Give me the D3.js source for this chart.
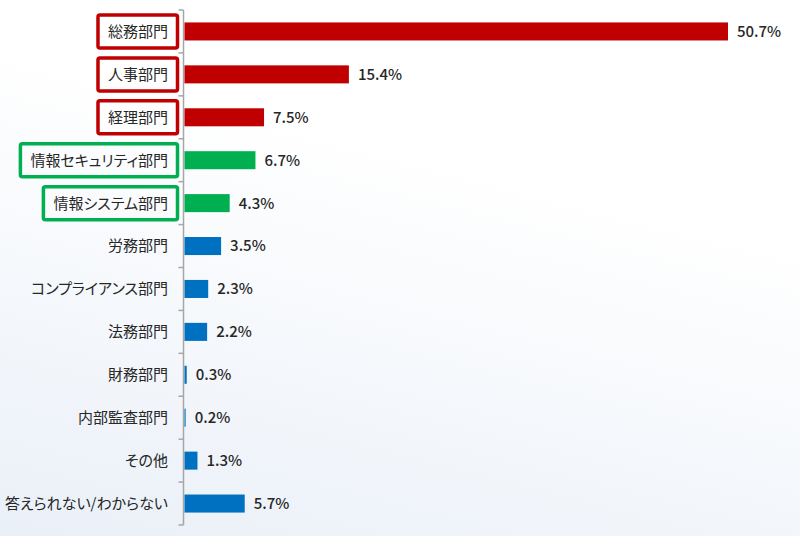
<!DOCTYPE html>
<html><head><meta charset="utf-8">
<script src="https://cdn.jsdelivr.net/npm/d3@7"></script>
<style>
html,body{margin:0;padding:0;}
svg{display:block;}
text{font-family:"Noto Sans CJK JP","Noto Sans",sans-serif;}
</style></head><body>
<svg id="chart" width="800" height="536"></svg>
<script>
const categories = ["総務部門","人事部門","経理部門","情報セキュリティ部門","情報システム部門","労務部門","コンプライアンス部門","法務部門","財務部門","内部監査部門","その他","答えられない/わからない"];
const values = [50.7,15.4,7.5,6.7,4.3,3.5,2.3,2.2,0.3,0.2,1.3,5.7];
const groups = ["red","red","red","green","green","blue","blue","blue","blue","blue","blue","blue"];
const boxed = [true,true,true,true,true,false,false,false,false,false,false,false];

const colors = {red:"#c00000", green:"#00b050", blue:"#0070c0"};
const svg = d3.select("#chart");
const W = 800, H = 536;

const defs = svg.append("defs");
const grad = defs.append("linearGradient").attr("id","bg").attr("x1","0.3").attr("y1","0.2").attr("x2","0").attr("y2","1");
grad.append("stop").attr("offset","0").attr("stop-color","#ffffff");
grad.append("stop").attr("offset","1").attr("stop-color","#eaf0f8");
svg.append("rect").attr("width",W).attr("height",H).attr("fill","url(#bg)");

const x0 = 183.5;
const x = d3.scaleLinear().domain([0,50.7]).range([x0, 728]);
const y = d3.scaleBand().domain(categories).range([10, 525]).paddingInner(0.58).paddingOuter(0.29);

const g = svg.append("g").attr("transform",`translate(${x0},0)`);
g.append("line").attr("x1",0).attr("x2",0).attr("y1",10).attr("y2",525).attr("stroke","#a6a6a6").attr("stroke-width",1.5);
const tickYs = d3.range(categories.length+1).map(i => 10 + i*(515/categories.length));
g.selectAll("line.tick").data(tickYs).join("line").attr("class","tick")
  .attr("x1",-5).attr("x2",0).attr("y1",d=>d).attr("y2",d=>d).attr("stroke","#a6a6a6").attr("stroke-width",1.5);

svg.selectAll("rect.bar").data(categories).join("rect").attr("class","bar")
  .attr("x", x0+1).attr("y", d=>y(d)).attr("height", y.bandwidth())
  .attr("width", (d,i)=>x(values[i])-x0-1)
  .attr("fill",(d,i)=>colors[groups[i]]);

svg.selectAll("text.val").data(categories).join("text").attr("class","val")
  .attr("x",(d,i)=>x(values[i])+9).attr("y",d=>y(d)+y.bandwidth()/2)
  .attr("dy","0.36em").attr("font-size",15).attr("font-weight",500).attr("fill","#262626")
  .text((d,i)=>values[i].toFixed(1)+"%");

const labels = svg.selectAll("text.cat").data(categories).join("text").attr("class","cat")
  .attr("x",168).attr("y",d=>y(d)+y.bandwidth()/2)
  .attr("dy","0.36em").attr("text-anchor","end").attr("font-size",15).attr("fill","#262626")
  .style("font-feature-settings","'palt'")
  .text(d=>d);

labels.each(function(d,i){
  if(!boxed[i]) return;
  const bb = this.getBBox();
  const cy = y(d)+y.bandwidth()/2;
  svg.append("rect").attr("x", bb.x-10).attr("y", cy-16.5).attr("width", 179-(bb.x-10)-1.5)
    .attr("height",33).attr("fill","none").attr("stroke",colors[groups[i]]).attr("stroke-width",3.5).attr("rx",2);
});
</script>
</body></html>
